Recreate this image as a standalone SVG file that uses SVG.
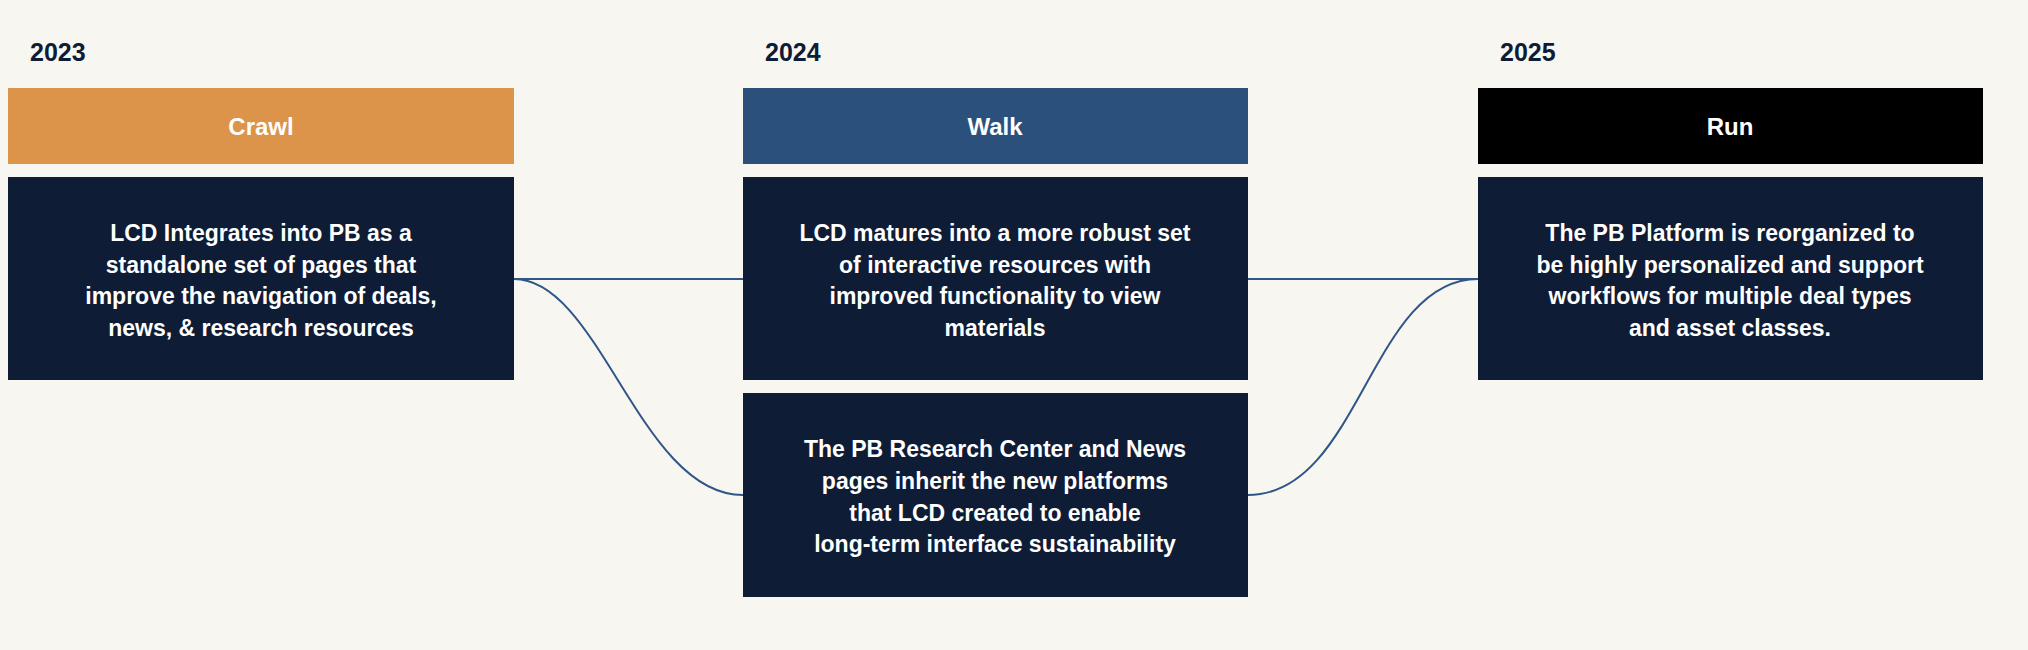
<svg xmlns="http://www.w3.org/2000/svg" width="2028" height="650" viewBox="0 0 2028 650">
<style>
.yr{font-family:"Liberation Sans",Arial,sans-serif;font-weight:bold;font-size:25px;fill:#0e1c36}
.hd{font-family:"Liberation Sans",Arial,sans-serif;font-weight:bold;font-size:24px;fill:#fff;text-anchor:middle}
.bd{font-family:"Liberation Sans",Arial,sans-serif;font-weight:bold;font-size:23px;fill:#fff;text-anchor:middle}
.box{fill:#0e1c36}
.ln{fill:none;stroke:#2f5687;stroke-width:2}
</style>
<rect width="2028" height="650" fill="#f7f6f1"/>
<g id="connectors">
<path class="ln" d="M514 279 H743"/>
<path class="ln" d="M514 279 C600 279 640 495 743 495"/>
<path class="ln" d="M1248 279 H1478"/>
<path class="ln" d="M1248 495 C1360 495 1370 279 1478 279"/>
</g>
<g id="y2023"><text class="yr" x="30" y="61">2023</text></g>
<g id="y2024"><text class="yr" x="765" y="61">2024</text></g>
<g id="y2025"><text class="yr" x="1500" y="61">2025</text></g>
<g id="crawl"><rect x="8" y="88" width="506" height="76" fill="#dc934a"/><text class="hd" x="261" y="135">Crawl</text></g>
<g id="walk"><rect x="743" y="88" width="505" height="76" fill="#2c507c"/><text class="hd" x="995" y="135">Walk</text></g>
<g id="run"><rect x="1478" y="88" width="505" height="76" fill="#000"/><text class="hd" x="1730" y="135">Run</text></g>
<g id="crawl-body"><rect class="box" x="8" y="177" width="506" height="203"/>
<text class="bd" x="261"><tspan x="261" y="241">LCD Integrates into PB as a</tspan><tspan x="261" y="273">standalone set of pages that</tspan><tspan x="261" y="304">improve the navigation of deals,</tspan><tspan x="261" y="336">news, &amp; research resources</tspan></text></g>
<g id="walk-body"><rect class="box" x="743" y="177" width="505" height="203"/>
<text class="bd"><tspan x="995" y="241">LCD matures into a more robust set</tspan><tspan x="995" y="273">of interactive resources with</tspan><tspan x="995" y="304">improved functionality to view</tspan><tspan x="995" y="336">materials</tspan></text></g>
<g id="walk-body2"><rect class="box" x="743" y="393" width="505" height="204"/>
<text class="bd"><tspan x="995" y="457">The PB Research Center and News</tspan><tspan x="995" y="489">pages inherit the new platforms</tspan><tspan x="995" y="521">that LCD created to enable</tspan><tspan x="995" y="552">long-term interface sustainability</tspan></text></g>
<g id="run-body"><rect class="box" x="1478" y="177" width="505" height="203"/>
<text class="bd"><tspan x="1730" y="241">The PB Platform is reorganized to</tspan><tspan x="1730" y="273">be highly personalized and support</tspan><tspan x="1730" y="304">workflows for multiple deal types</tspan><tspan x="1730" y="336">and asset classes.</tspan></text></g>
</svg>
